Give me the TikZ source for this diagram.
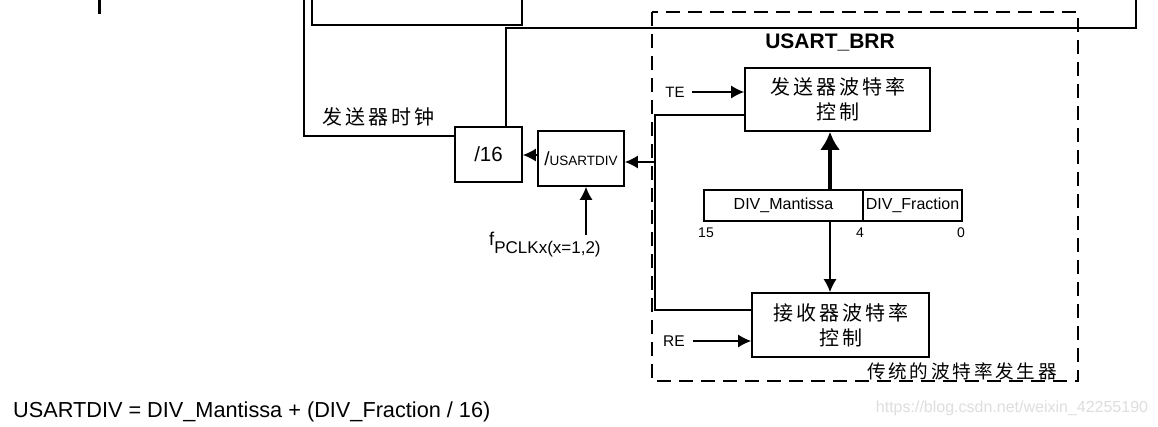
\documentclass[tikz,border=0pt]{standalone}
\usepackage{fontspec}
\setmainfont{Liberation Sans}
\newfontfamily\cjk[LetterSpace=15]{Noto Sans CJK SC}
\usetikzlibrary{arrows.meta}
\tikzset{
  box/.style={draw, line width=1.6pt, inner sep=0pt, align=center},
  ln/.style={line width=1.5pt},
  arr/.style={line width=1.6pt, -{Latex[length=13pt,width=13pt]}},
  bigarr/.style={line width=4pt, -{Latex[length=18pt,width=20pt]}},
  dashbox/.style={draw, line width=1.8pt, dash pattern=on 14pt off 8pt},
  lbl/.style={inner sep=2pt},
  cn/.style={font=\cjk\fontsize{20}{25}\selectfont},
}
\begin{document}
\begin{tikzpicture}[x=1pt,y=-1pt]
\useasboundingbox (0,0) rectangle (1158,426);
\fill[white] (0,0) rectangle (1158,426);
\clip (0,0) rectangle (1158,426);

% short mark top left
\coordinate (m1) at (99,0);
\coordinate (m2) at (99,14);
\draw[line width=3pt] (m1) -- (m2);

% boxes
\node[box, minimum width=210pt, minimum height=45pt] (top) at (417,2.5) {};
\node[box, minimum width=67pt, minimum height=55pt, font=\fontsize{20.5}{20.5}\selectfont] (d16) at (488.5,154.5) {/16};
\node[box, minimum width=86pt, minimum height=55pt] (udiv) at (581,158.5) {{\fontsize{19}{19}\selectfont /}{\fontsize{13.5}{13.5}\selectfont USARTDIV}};
\node[box, cn, minimum width=185pt, minimum height=63pt] (tx) at (837.5,99.5) {发送器波特率\\控制};
\node[box, minimum width=159pt, minimum height=31pt, font=\fontsize{16}{16}\selectfont] (mant) at (783.5,205.5) {DIV\_Mantissa};
\node[box, minimum width=99pt, minimum height=31pt, font=\fontsize{16}{16}\selectfont] (frac) at (912.5,205.5) {DIV\_Fraction};
\node[box, cn, minimum width=177pt, minimum height=64pt] (rx) at (840.5,325) {接收器波特率\\控制};

% dashed generator frame
\draw[dashbox] (652,12) rectangle (1078,381);

% labels
\node[lbl, font=\bfseries\fontsize{21}{21}\selectfont] (brr) at (830,42) {USART\_BRR};
\node[lbl, font=\fontsize{15}{15}\selectfont] (te) at (675,92) {TE};
\node[lbl, font=\fontsize{15.5}{15.5}\selectfont] (re) at (674,341) {RE};
\node[lbl, cn] (clk) at (378,117) {发送器时钟};
\node[lbl, font=\cjk\fontsize{18.6}{20}\selectfont] (trad) at (962,371) {传统的波特率发生器};
\node[lbl, font=\fontsize{14}{14}\selectfont] (b15) at (706,233) {15};
\node[lbl, font=\fontsize{14}{14}\selectfont] (b4) at (860,233) {4};
\node[lbl, font=\fontsize{14}{14}\selectfont] (b0) at (961,233) {0};
\node[inner sep=0pt, anchor=base west] (fp) at (489,245) {{\fontsize{18.5}{18.5}\selectfont f}\raisebox{-8pt}{\fontsize{17}{17}\selectfont PCLKx(x=1,2)}};
\node[inner sep=0pt, anchor=base west, font=\fontsize{21.7}{21.7}\selectfont] (formula) at (13,417.5) {USARTDIV = DIV\_Mantissa + (DIV\_Fraction / 16)};
\node[inner sep=0pt, text=black!13, font=\fontsize{16}{16}\selectfont] (wm) at (1012,408) {https://blog.csdn.net/weixin\_42255190};

% connectors
\coordinate (c1) at (304,0);
\draw[ln] (c1) |- ([yshift=18.5pt]d16.west);
\coordinate (c3) at (1136,28);
\coordinate (c4) at (1136,0);
\draw[ln] ([xshift=17.5pt]d16.north) |- (c3) -- (c4);

\coordinate (p1) at ([yshift=3.5pt]udiv.west);
\draw[arr] (p1) -- (p1 -| d16.east);

\coordinate (fptop) at (586,235);
\draw[arr] (fptop) -- (fptop |- udiv.south);

\coordinate (l1) at ([yshift=-15.5pt]tx.west);
\coordinate (lc) at (655,310);
\draw[ln] (l1) -| (lc) -- (lc -| rx.west);
\coordinate (l4) at (655,162);
\draw[arr] (l4) -- (l4 -| udiv.east);

\draw[arr, shorten <=5pt] (te.east) -- (te.east -| tx.west);
\draw[arr, shorten <=6pt] (re.east) -- (re.east -| rx.west);

\coordinate (ax) at (830,0);
\draw[bigarr] (ax |- mant.north) -- (ax |- tx.south);
\draw[arr] (ax |- mant.south) -- (ax |- rx.north);
\end{tikzpicture}
\end{document}
